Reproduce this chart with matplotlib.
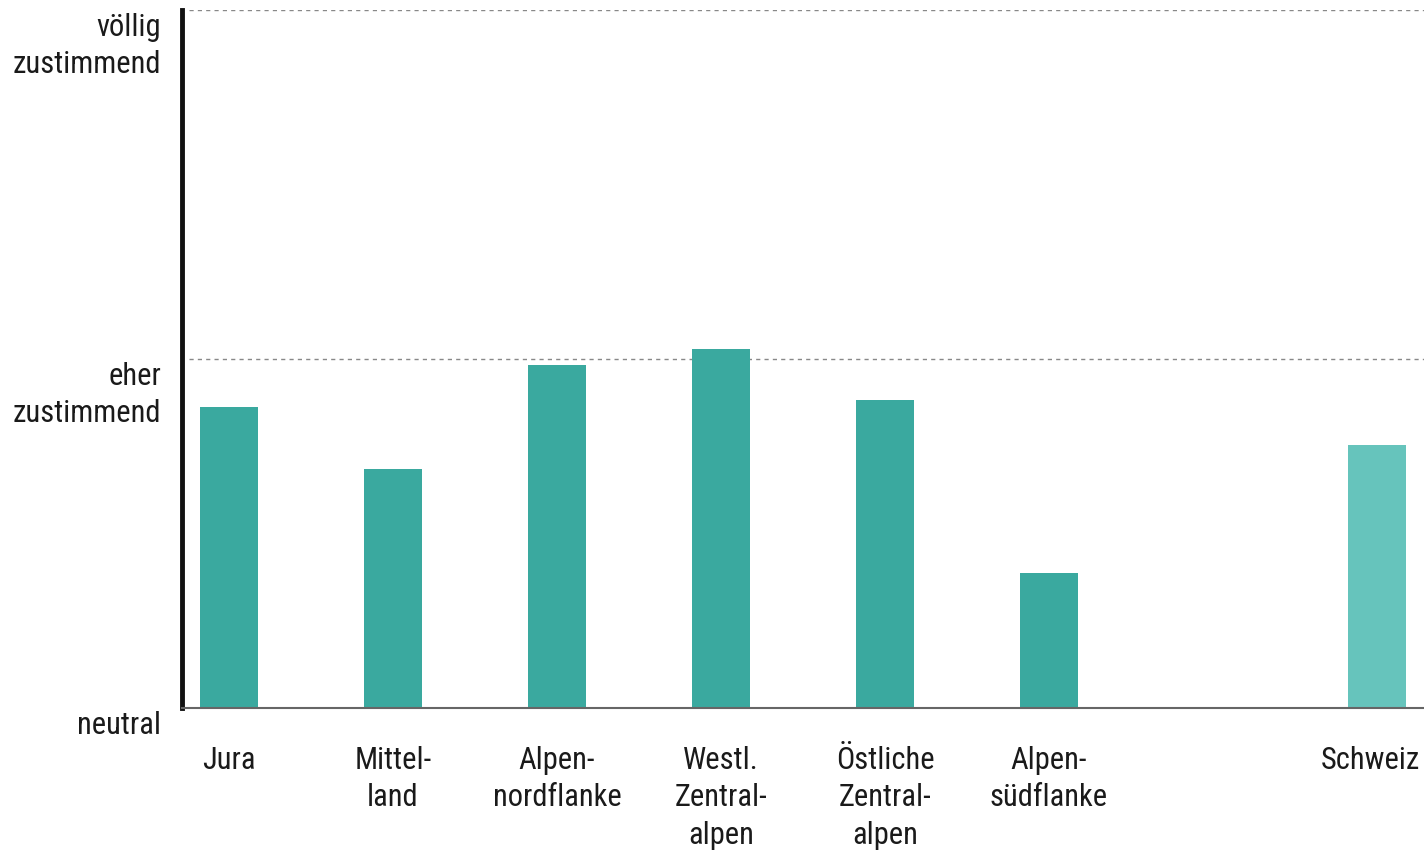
import matplotlib.pyplot as plt
import numpy as np

# categories and values (0 = neutral, 1 = eher zustimmend, 2 = völlig zustimmend)
regions = ["Jura", "Mittel-\nland", "Alpen-\nnordflanke", "Westl.\nZentral-\nalpen",
           "Östliche\nZentral-\nalpen", "Alpen-\nsüdflanke", "Schweiz"]
slots = [0, 1, 2, 3, 4, 5, 7]
values = [0.862, 0.685, 0.983, 1.03, 0.882, 0.387, 0.754]
y_ticks = [0, 1, 2]
y_labels = ["neutral", "eher\nzustimmend", "völlig\nzustimmend"]

bar_col = "#3aa99f"
ch_col = "#66c4bc"
txt_col = "#1a1a1a"
fam = ["Roboto Condensed", "Liberation Sans", "DejaVu Sans"]

fig = plt.figure(figsize=(14.24, 8.55), dpi=100)
ax = fig.add_axes([182 / 1424, 1 - 708 / 855, 1 - 182 / 1424, (708 - 10) / 855])

colors = [bar_col] * 6 + [ch_col]
ax.bar(slots, values, width=0.35, color=colors, zorder=2)

# dotted reference lines
for yv in [1, 2]:
    ax.axhline(yv, xmin=0.006, color="#888888", linestyle=(0, (3, 3)), linewidth=1.0, zorder=1)

ax.set_xlim(-0.2866, 7.287)
ax.set_ylim(0, 2)

for s in ["top", "right"]:
    ax.spines[s].set_visible(False)
ax.spines["left"].set_linewidth(3.5)
ax.spines["left"].set_color("#111111")
ax.spines["bottom"].set_linewidth(1.5)
ax.spines["bottom"].set_color("#666666")

ax.set_xticks([])
ax.set_yticks([])

# y labels, top aligned at tick positions
for yv, lab in zip(y_ticks, y_labels):
    ax.annotate(lab, xy=(0, yv), xycoords=("axes fraction", "data"),
                xytext=(-21, -3), textcoords="offset pixels",
                ha="right", va="top", fontsize=22, family=fam,
                color=txt_col, linespacing=1.36)

# x labels
for sx, lab in zip(slots, regions):
    dx = -6 if sx == 7 else 0
    ax.annotate(lab, xy=(sx, 0), xycoords="data",
                xytext=(dx, -38), textcoords="offset pixels",
                ha="center", va="top", fontsize=22, family=fam,
                color=txt_col, linespacing=1.36)

fig.savefig("out.png", dpi=100)
